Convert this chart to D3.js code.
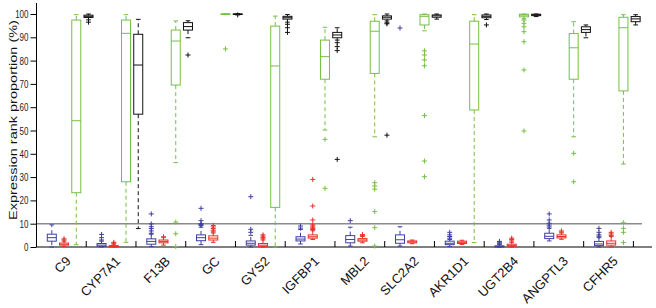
<!DOCTYPE html>
<html>
<head>
<meta charset="utf-8">
<script src="https://cdn.jsdelivr.net/npm/d3@7"></script>
<style>
  body { margin: 0; background: #fff; }
  #wrap { position: relative; width: 656px; height: 308px; }
  svg { display: block; font-family: "Liberation Sans", Arial, sans-serif; }
  #ytitle {
    position: absolute; left: 12.5px; top: 120px; width: 240px; margin-left: -120px;
    text-align: center; font: 14.5px "Liberation Sans", Arial, sans-serif; color: #111;
    transform: translateY(-9px) scale(0.73, 1) rotate(-90deg); transform-origin: 50% 50%;
    white-space: nowrap; line-height: 18px;
  }
</style>
</head>
<body>
<div id="wrap"><svg></svg><div id="ytitle"></div></div>
<script>
// genes on the x axis
const genes = ["C9", "CYP7A1", "F13B", "GC", "GYS2", "IGFBP1", "MBL2", "SLC2A2", "AKR1D1", "UGT2B4", "ANGPTL3", "CFHR5"]
const seriesKeys = ["blue", "red", "green", "black"]
const yTickValues = [0, 10, 20, 30, 40, 50, 60, 70, 80, 90, 100]
const yTitle = "Expression rank proportion (%)"

// [lower whisker, q1, median, q3, upper whisker] per gene
const blueBox = [
  [0, 2.5, 4, 5.5, 9.5], [0, 0.3, 0.8, 1.5, 2.5], [0.2, 1.2, 2.4, 3.5, 5.5], [1, 2.7, 4, 5.2, 8.5],
  [0, 0.8, 1.6, 2.6, 5], [1.3, 2.6, 3.4, 4.4, 7.5], [0.4, 1.8, 3.2, 4.9, 8.5], [0.4, 1.6, 3.1, 5.2, 8.7],
  [0.2, 1.0, 1.6, 2.5, 3.2], [0, 0, 0.2, 0.5, 1.0], [2.6, 3.6, 4.6, 5.9, 8], [0, 0.6, 1.3, 2.4, 4]
]
const blueOut = [[], [3, 4, 5.4], [5.9, 6.9, 7.9, 8.7, 9.9, 14.2], [9.2, 9.6, 10, 11.3, 16.6], [6.3, 7.6, 21.6], [8.1, 9.0],
  [11.3], [94], [3.8, 4.5, 5.2, 6.3], [1.3, 1.7, 2.1, 2.4], [8.6, 9.4, 10.2, 11.6, 14.2], [4.6, 5.2, 6.3, 8]]

const redBox = [
  [0.2, 0.8, 1.2, 1.7, 2.5], [0, 0.1, 0.3, 0.6, 1.2], [0.8, 1.8, 2.4, 3, 4], [2, 3, 3.8, 4.8, 6],
  [0, 0.3, 0.8, 1.5, 3], [3.2, 3.8, 4.4, 5.2, 7], [1.8, 2.5, 3, 3.6, 4.5], [1.4, 1.8, 2.2, 2.6, 3],
  [1.1, 1.5, 2, 2.5, 2.9], [0, 0.3, 0.7, 1.2, 2], [3.3, 3.9, 4.5, 5.2, 6], [0, 0.8, 1.6, 2.6, 4.5]
]
const redOut = [[3, 3.5], [1.6, 2], [4.4], [6.5, 7.2, 7.9, 8.6, 9.2], [3.5, 4.1, 4.7, 5.2], [7.5, 8, 8.5, 9, 9.5, 11.6, 17.6, 29],
  [5, 5.3], [], [], [2.6, 3.2, 3.8], [6.4, 6.9], [5, 5.6, 6.3]]

const greenBox = [
  [1, 23.3, 54.2, 97.4, 99.7], [2, 28, 91.7, 97.4, 99.7], [36.2, 69.5, 88.4, 93.1, 97], [100, 100, 100, 100, 100],
  [0, 17, 77.7, 94.8, 99.1], [50.2, 72, 81.7, 88.8, 94.3], [47.3, 74.5, 92.6, 96.9, 99.7], [92.8, 95.3, 99, 99.7, 100],
  [1.9, 58.8, 87.1, 96.9, 99.7], [98, 98.8, 99.5, 99.9, 100], [47.3, 72, 85.5, 91.6, 96.7], [35.6, 67, 94.1, 98.6, 99.7]
]
const greenOut = [[], [], [10.7, 5.7, 0.2], [85], [], [46.2, 25.2], [27.6, 26.2, 24.8, 15.2, 8.3, 0.4],
  [84.2, 82.4, 80.3, 77.8, 56.4, 36.9, 30.2], [], [97.4, 96, 94.5, 92.4, 88.1, 76, 49.8], [40.2, 28], [10.4, 8, 6.3, 1.9]]

const blackBox = [
  [97.5, 98.5, 99, 99.5, 100], [7.9, 57, 78.1, 91.3, 97.7], [89.8, 93.1, 94.6, 96.3, 97.1], [100, 100, 100, 100, 100],
  [96.5, 97.8, 98.4, 99, 99.8], [88.8, 89.8, 91, 92.1, 94.1], [97, 97.8, 98.6, 99.2, 100], [97.8, 98.6, 99.2, 99.6, 100],
  [97.6, 98.4, 99, 99.6, 100], [98.9, 99.3, 99.6, 99.9, 100], [89.8, 92.1, 93.3, 94.5, 95.3], [95.3, 96.7, 97.9, 98.9, 99.7]
]
const blackOut = [[96.5], [], [82.4], [99.6], [95.6, 94.1, 92.1], [87.7, 86, 84.3, 37.6], [96.2, 95.8, 48], [], [95.3], [], [], []]

const threshold = 10

let boxes = { blue: blueBox, red: redBox, green: greenBox, black: blackBox }
let outliers = { blue: blueOut, red: redOut, green: greenOut, black: blackOut }
let colors = { blue: "#3f3fa0", red: "#e8302a", green: "#74c043", black: "#111111" }

let svg = d3.select("svg").attr("width", 656).attr("height", 308)

let xBand = d3.scaleBand().domain(genes).range([36.5, 633.4]).padding(0)
let xs = d3.scalePoint().domain(seriesKeys).range([15.3, 52])
let yScale = d3.scaleLinear().domain([0, 100]).range([247, 14])

d3.select("#ytitle").text(yTitle)

// y axis, ticks pointing out
let yAxis = svg.append("g")
  .attr("class", "y-axis")
  .attr("transform", "translate(36.5,0)")
  .call(d3.axisLeft(yScale).tickValues(yTickValues).tickSize(6).tickPadding(2).tickSizeOuter(0))
yAxis.select(".domain").attr("d", "M0,247V3")
yAxis.selectAll(".tick text")
  .style("font-size", "11px")
  .attr("fill", "#222")
  .attr("textLength", d => String(d).length * 4.45)
  .attr("lengthAdjust", "spacingAndGlyphs")

// reference line
svg.append("line")
  .attr("x1", 37).attr("x2", 642)
  .attr("y1", yScale(threshold)).attr("y2", yScale(threshold))
  .attr("stroke", "#8a8a8a").attr("stroke-width", 1.5)

// x axis with ticks pointing up at group borders
let xAxis = svg.append("g").attr("transform", "translate(0,247)")
xAxis.append("line").attr("x1", 36.5).attr("x2", 652).attr("stroke", "#000")
xAxis.selectAll(".xtick")
  .data(genes)
  .enter()
  .append("line")
  .attr("x1", d => xBand(d) + xBand.bandwidth()).attr("x2", d => xBand(d) + xBand.bandwidth())
  .attr("y1", 0).attr("y2", -6)
  .attr("stroke", "#000")

xAxis.selectAll(".xlabel")
  .data(genes)
  .enter()
  .append("text")
  .attr("transform", d => `translate(${xBand(d) + 35},15) rotate(-45)`)
  .attr("text-anchor", "end")
  .style("font-size", "13px").attr("fill", "#111")
  .text(d => d)

// boxes
let bw = 9
let cap = 2.3

seriesKeys.forEach(key => {
  let col = colors[key]
  let g = svg.append("g").attr("class", "series-" + key)
  genes.forEach((gene, i) => {
    let [lo, q1, med, q3, hi] = boxes[key][i]
    let cx = xBand(gene) + xs(key)
    let b = g.append("g")
    b.append("line").attr("x1", cx).attr("x2", cx).attr("y1", yScale(q3)).attr("y2", yScale(hi))
      .attr("stroke", col).attr("stroke-dasharray", "4,3")
    b.append("line").attr("x1", cx).attr("x2", cx).attr("y1", yScale(q1)).attr("y2", yScale(lo))
      .attr("stroke", col).attr("stroke-dasharray", "4,3")
    b.append("line").attr("x1", cx - cap).attr("x2", cx + cap).attr("y1", yScale(hi)).attr("y2", yScale(hi)).attr("stroke", col)
    b.append("line").attr("x1", cx - cap).attr("x2", cx + cap).attr("y1", yScale(lo)).attr("y2", yScale(lo)).attr("stroke", col)
    b.append("rect")
      .attr("x", cx - bw / 2).attr("width", bw)
      .attr("y", yScale(q3)).attr("height", Math.max(0.5, yScale(q1) - yScale(q3)))
      .attr("fill", "none").attr("stroke", col)
    b.append("line").attr("x1", cx - bw / 2).attr("x2", cx + bw / 2).attr("y1", yScale(med)).attr("y2", yScale(med)).attr("stroke", col)
    b.selectAll("path.out")
      .data(outliers[key][i])
      .enter()
      .append("path")
      .attr("d", v => `M${cx - 2.5},${yScale(v)}h5M${cx},${yScale(v) - 2.5}v5`)
      .attr("stroke", col)
  })
})
</script>
</body>
</html>
